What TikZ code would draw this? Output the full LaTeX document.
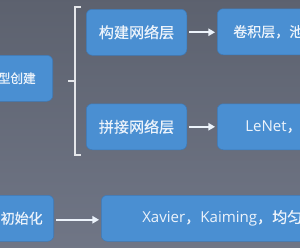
\documentclass[tikz,border=0pt]{standalone}
\usepackage{fontspec}
\setmainfont{Noto Sans CJK SC}[FakeBold=0.6]
\newfontfamily\latinfont{Open Sans}
\usepackage{tikz}
\usetikzlibrary{arrows.meta,positioning,calc}
\definecolor{bgTop}{RGB}{92,97,110}
\definecolor{bgBot}{RGB}{112,118,134}
\definecolor{boxBlue}{RGB}{74,143,210}
\definecolor{boxEdge}{RGB}{62,122,184}
\definecolor{inkWhite}{RGB}{236,243,251}
\definecolor{braceGray}{RGB}{228,230,234}
\newcommand{\lat}[1]{{\latinfont #1}}
\tikzset{
  stepbox/.style={rectangle,rounded corners=4.5pt,fill=boxBlue,draw=boxEdge,line width=0.4pt,
    text=inkWhite,minimum height=34.5pt,inner ysep=0pt,font=\fontsize{11.3}{13}\selectfont},
  flow/.style={draw=inkWhite,line width=1.4pt,-{Triangle[length=5pt,width=5.5pt]},
    shorten <=1.5pt,shorten >=1.5pt},
  brace/.style={draw=braceGray,line width=1.1pt}
}

\begin{document}
\begin{tikzpicture}[x=0.75pt,y=-0.75pt]
  \useasboundingbox (0,0) rectangle (300,247);
  \clip (0,0) rectangle (300,247);
  \shade[top color=bgTop,bottom color=bgBot] (-5,-5) rectangle (305,252);
  % left column
  \node[stepbox,anchor=north east,text width=60pt,align=right,inner xsep=12.75pt,
    font=\fontsize{9.5}{12}\selectfont] (create) at (53,55) {型创建};
  \node[stepbox,anchor=north east,text width=60pt,align=right,inner xsep=8.25pt,
    font=\fontsize{10.5}{12}\selectfont] (init) at (54,195) {初始化};
  % middle column
  \node[stepbox,anchor=north west,minimum width=75.4pt] (build) at (86,9) {构建网络层};
  \node[stepbox,anchor=north west,minimum width=75.4pt] (concat) at (86,103.5) {拼接网络层};
  % right column
  \node[stepbox,anchor=north west,text width=100pt,align=left,inner xsep=12pt,
    font=\fontsize{10.5}{12}\selectfont] (conv) at (217,8.5) {卷积层，池};
  \node[stepbox,anchor=north west,text width=100pt,align=left,inner xsep=21pt] (lenet) at (217,103.5) {\lat{LeNet}，};
  \node[stepbox,anchor=north west,text width=180pt,align=left,inner xsep=30.75pt] (xavier) at (101,195) {\lat{Xavier}，\lat{Kaiming}，均匀};
  % bracket
  \coordinate (brtop) at (81,7);
  \coordinate (brbot) at (81,155);
  \coordinate (brmid) at (68,81);
  \draw[brace] (brtop) -- ++(-6,0) -- ($(brbot)+(-6,0)$) -- (brbot);
  \draw[brace] (brmid) -- ++(7,0);
  % arrows
  \draw[flow] (build.east) -- (build.east -| conv.west);
  \draw[flow] (concat.east) -- (concat.east -| lenet.west);
  \draw[flow] ($(init.east)+(0,1.5)$) -- ($(init.east -| xavier.west)+(0,1.5)$);
\end{tikzpicture}
\end{document}
